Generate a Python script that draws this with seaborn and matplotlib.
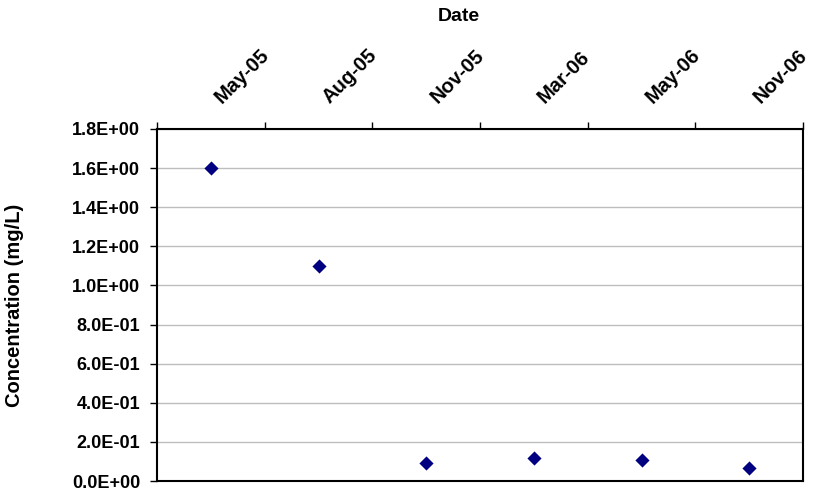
import matplotlib.pyplot as plt
import matplotlib.ticker as mticker
import matplotlib.transforms as mtransforms
import pandas as pd
import seaborn as sns

# --- data ---
DATES = ["May-05", "Aug-05", "Nov-05", "Mar-06", "May-06", "Nov-06"]
CONCENTRATION = [1.6, 1.1, 0.092, 0.119, 0.107, 0.068]

sns.set_style("white")
plt.rcParams["font.family"] = ["Liberation Sans", "DejaVu Sans"]
plt.rcParams["font.weight"] = "bold"
for key in ["text.color", "axes.labelcolor", "xtick.color", "ytick.color"]:
    plt.rcParams[key] = "black"

df = pd.DataFrame({"date": DATES, "conc": CONCENTRATION})
df["pos"] = range(len(df))

W, H = 816, 493
fig = plt.figure(figsize=(W / 100, H / 100), dpi=100)
ax = fig.add_axes([157 / W, 1 - 481 / H, (803 - 157) / W, (481 - 129) / H])

sns.scatterplot(
    data=df,
    x="pos",
    y="conc",
    marker="D",
    color="#000080",
    s=52,
    linewidth=0,
    ax=ax,
    zorder=3,
)

# y axis, scientific labels like Excel
ax.set_ylim(0, 1.8)
ax.yaxis.set_major_locator(mticker.MultipleLocator(0.2))
ax.yaxis.set_major_formatter(mticker.FuncFormatter(lambda v, _: f"{v:.1E}"))
ax.grid(axis="y", color="#bdbdbd", linewidth=1.0)
ax.set_axisbelow(True)
ax.tick_params(axis="y", direction="out", length=5, width=1.0,
               labelsize=13, pad=7, left=True)

# x axis on top: ticks between categories, labels next to category centres
n = len(DATES)
ax.set_xlim(-0.5, n - 0.5)
ax.xaxis.tick_top()
ax.set_xticks([i - 0.5 for i in range(n + 1)])
ax.set_xticklabels([])
ax.tick_params(axis="x", direction="out", length=5, width=1.0,
               top=True, bottom=False)
ax.set_xlabel("")
ax.set_ylabel("")

lab_tr = mtransforms.offset_copy(ax.get_xaxis_transform(), fig=fig,
                                 x=11, y=25, units="dots")
for i, d in enumerate(DATES):
    ax.text(i, 1, d, transform=lab_tr, rotation=45, rotation_mode="anchor",
            ha="left", va="baseline", fontsize=14.5, fontweight="bold",
            clip_on=False)

for sp in ax.spines.values():
    sp.set_color("black")
    sp.set_linewidth(1.5)

fig.text(459 / W, 1 - 21 / H, "Date", ha="center", va="baseline",
         fontsize=14, fontweight="bold")
fig.text(15 / W, 1 - 305 / H, "Concentration (mg/L)", rotation=90,
         ha="center", va="center", fontsize=14.5, fontweight="bold")

fig.savefig("out.png", dpi=100)
